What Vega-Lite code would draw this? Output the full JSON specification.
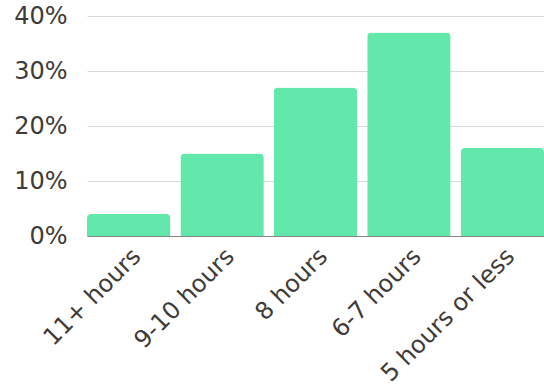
{
  "$schema": "https://vega.github.io/schema/vega-lite/v6.json",
  "autosize": {"type": "none"},
  "padding": {"left": 87, "top": 16, "right": 0, "bottom": 154},
  "width": 457,
  "height": 220,
  "background": "white",
  "data": {"values": [
    {"sleep": "11+ hours", "pct": 4},
    {"sleep": "9-10 hours", "pct": 15},
    {"sleep": "8 hours", "pct": 27},
    {"sleep": "6-7 hours", "pct": 37},
    {"sleep": "5 hours or less", "pct": 16}
  ]},
  "mark": {"type": "bar", "color": "#63E8AC", "cornerRadiusTopLeft": 4, "cornerRadiusTopRight": 4},
  "encoding": {
    "x": {
      "field": "sleep", "type": "nominal", "sort": null,
      "scale": {"paddingInner": 0.107, "paddingOuter": 0},
      "axis": {
        "title": null, "labelAngle": -45, "labelFont": "DejaVu Sans", "labelFontSize": 24,
        "labelColor": "#403b37", "ticks": false, "labelPadding": 8,
        "domainColor": "#888888", "domainWidth": 1, "grid": false
      }
    },
    "y": {
      "field": "pct", "type": "quantitative",
      "scale": {"domain": [0, 40]},
      "axis": {
        "title": null, "values": [0, 10, 20, 30, 40], "labelExpr": "datum.value + '%'",
        "labelFont": "DejaVu Sans", "labelFontSize": 24, "labelColor": "#403b37",
        "ticks": false, "domain": false, "labelPadding": 20,
        "gridColor": "#d9d9d9", "gridWidth": 1
      }
    }
  },
  "config": {"view": {"stroke": null}}
}
